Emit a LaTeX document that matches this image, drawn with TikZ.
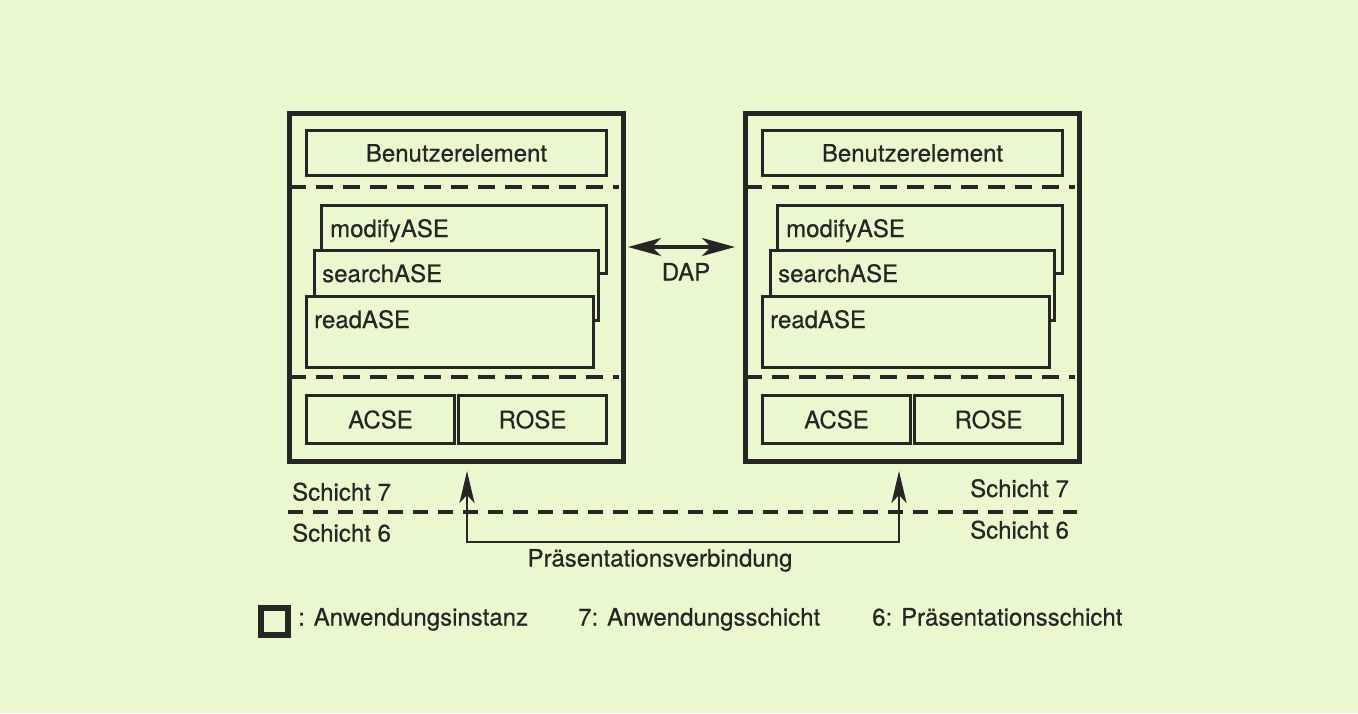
\documentclass[tikz,border=0pt]{standalone}
\usepackage{fontspec}
\setmainfont{TeX Gyre Heros}[FakeBold=0.5]
\usetikzlibrary{arrows.meta}
\definecolor{paper}{RGB}{234,248,208}
\definecolor{ink}{RGB}{38,38,36}

% one application entity: frame, user element, ASE stack, ACSE/ROSE
\newcommand\anwinstanz[2]{%
  \begin{scope}[xshift=#2]
    \node[frame, minimum width=334pt, minimum height=348pt, anchor=north west] (#1frame) at (287,111) {};
    \node[part, minimum width=300pt, minimum height=45pt] (#1user) at (305,129) {Benutzerelement};
    \coordinate (#1sa) at (289,187); \coordinate (#1sb) at (619,187);
    \draw[sep] (#1sa) -- (#1sb);
    \node[part, minimum width=285pt, minimum height=68pt] (#1mod) at (320,204) {};
    \node[lbl] (#1modt) at ([xshift=10pt,yshift=-33pt]#1mod.north west) {modifyASE};
    \node[part, minimum width=284pt, minimum height=70pt] (#1sea) at (313,249) {};
    \node[lbl] (#1seat) at ([xshift=9pt,yshift=-33pt]#1sea.north west) {searchASE};
    \node[part, minimum width=287pt, minimum height=71pt] (#1rea) at (305,295) {};
    \node[lbl] (#1reat) at ([xshift=9pt,yshift=-33pt]#1rea.north west) {readASE};
    \coordinate (#1sc) at (289,377); \coordinate (#1sd) at (619,377);
    \draw[sep] (#1sc) -- (#1sd);
    \node[part, minimum width=148pt, minimum height=48pt] (#1acse) at (305,394) {ACSE};
    \node[part, minimum width=148pt, minimum height=48pt] (#1rose) at (457,394) {ROSE};
  \end{scope}}

\begin{document}
\begin{tikzpicture}[x=1pt, y=-1pt,
  every node/.style={text=ink, font=\fontsize{24}{28}\selectfont, inner sep=0pt},
  frame/.style={draw=ink, line width=5pt},
  part/.style={draw=ink, line width=3pt, fill=paper, anchor=north west},
  lbl/.style={anchor=base west},
  sep/.style={draw=ink, line width=3.3pt, dash pattern=on 17pt off 10pt},
  conn/.style={draw=ink, line width=2.8pt},
]
\fill[paper] (0,0) rectangle (1358,713);
\useasboundingbox (0,0) rectangle (1358,713);

\anwinstanz{l}{0pt}
\anwinstanz{r}{456pt}

% DAP between the two entities
\coordinate (dapl) at (628,247);
\coordinate (dapr) at (735,247);
\draw[conn, line width=3.2pt, {Stealth[length=33pt, width=18pt, inset=9pt]}-{Stealth[length=33pt, width=18pt, inset=9pt]}] (dapl) -- (dapr);
\node[anchor=base] (dap) at (686,280.5) {DAP};

% layer boundary 7/6
\coordinate (la) at (288,512);
\coordinate (lb) at (1077,512);
\draw[sep, dash pattern=on 15pt off 10pt] (la) -- (lb);
\node[lbl] (s7l) at (292,500.5) {Schicht 7};
\node[lbl] (s6l) at (292,541.5) {Schicht 6};
\node[lbl] (s7r) at (970,497) {Schicht 7};
\node[lbl] (s6r) at (970,538.5) {Schicht 6};

% presentation connection
\coordinate (pl) at (467,471);
\coordinate (pr) at (899,471);
\coordinate (ub) at (0,542);
\draw[conn, {Stealth[length=32pt, width=15pt, inset=8pt]}-{Stealth[length=32pt, width=15pt, inset=8pt]}]
  (pl) -- (pl |- ub) -- (pr |- ub) -- (pr);
\node[anchor=base] (pv) at (660,566.5) {Präsentationsverbindung};

% legend
\node[draw=ink, line width=5.5pt, minimum size=27pt, anchor=north west] (legbox) at (258,605) {};
\node[lbl] (leg1) at (298,625.5) {: Anwendungsinstanz};
\node[lbl] (leg2) at (578,625.5) {7: Anwendungsschicht};
\node[lbl] (leg3) at (872,625.5) {6: Präsentationsschicht};
\end{tikzpicture}
\end{document}
